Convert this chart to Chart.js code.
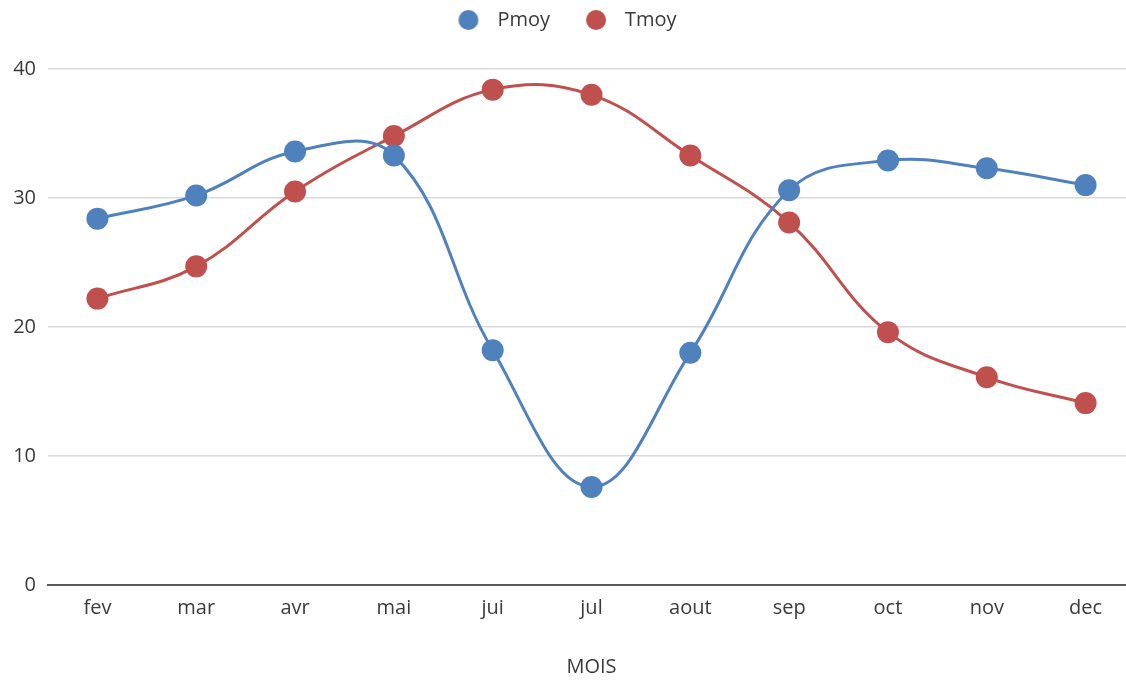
<!DOCTYPE html>
<html>
<head>
<meta charset="utf-8">
<script src="https://cdn.jsdelivr.net/npm/chart.js@4/dist/chart.umd.min.js"></script>
<style>
  html, body { margin: 0; padding: 0; background: #fff; overflow: hidden; }
  #wrap { position: relative; width: 1126px; height: 680px; overflow: hidden; }
  #chart { position: absolute; left: 0; top: 0; }
</style>
</head>
<body>
<div id="wrap">
  <canvas id="chart" width="1146" height="680"></canvas>
</div>
<script>
const months = ["fev", "mar", "avr", "mai", "jui", "jul", "aout", "sep", "oct", "nov", "dec"];
const pmoy = [28.4, 30.2, 33.6, 33.3, 18.2, 7.6, 18.0, 30.6, 32.9, 32.3, 31.0];
const tmoy = [22.2, 24.7, 30.5, 34.8, 38.4, 38.0, 33.3, 28.1, 19.6, 16.1, 14.1];
const yTicks = [0, 10, 20, 30, 40];

const blue = "#4F81BD";
const red = "#C0504D";
const textColor = "#3a3a3a";
const font = "'Open Sans', 'DejaVu Sans', sans-serif";
const fontSize = 20;

const series = (label, data, color) => ({
    label,
    data,
    borderColor: color,
    backgroundColor: color,
    borderWidth: 3,
    pointRadius: 11,
    pointHoverRadius: 11,
    pointBorderWidth: 0,
    tension: 0.4,
    fill: false,
});

// round legend marker, drawn once so the legend box can be wider than the dot
function dot(color) {
    const c = document.createElement("canvas");
    c.width = 22;
    c.height = 22;
    const ctx = c.getContext("2d");
    ctx.fillStyle = color;
    ctx.beginPath();
    ctx.arc(11, 11, 10, 0, Math.PI * 2);
    ctx.fill();
    return c;
}

const legendDots = [dot(blue), dot(red)];

// reserve a fixed band above the plot for the legend and nudge the items in it
const legendBand = {
    id: "legendBand",
    beforeInit(chart) {
        const fit = chart.legend.fit;
        chart.legend.fit = function () {
            fit.call(this);
            this.height = 69;
        };
    },
    afterLayout(chart) {
        chart.legend.top = -17;
        chart.legend.left -= 10;
        chart.legend.right -= 10;
    },
};

new Chart(document.getElementById("chart"), {
    type: "line",
    data: {
        labels: months,
        datasets: [series("Pmoy", pmoy, blue), series("Tmoy", tmoy, red)],
    },
    plugins: [legendBand],
    options: {
        responsive: false,
        animation: false,
        devicePixelRatio: 1,
        layout: { padding: 0 },
        plugins: {
            legend: {
                position: "top",
                labels: {
                    usePointStyle: true,
                    pointStyleWidth: 38,
                    boxHeight: 20,
                    padding: 27,
                    color: textColor,
                    font: { family: font, size: fontSize },
                    generateLabels: (chart) =>
                        Chart.defaults.plugins.legend.labels
                            .generateLabels(chart)
                            .map((item, i) => ({ ...item, pointStyle: legendDots[i] })),
                },
            },
            tooltip: { enabled: false },
        },
        scales: {
            x: {
                offset: true,
                afterFit: (axis) => { axis.height = 95; },
                grid: { display: false, drawTicks: false },
                border: { display: true, color: "#595959", width: 2 },
                ticks: {
                    color: textColor,
                    padding: 11,
                    font: { family: font, size: fontSize },
                },
                title: {
                    display: true,
                    text: "MOIS",
                    color: textColor,
                    padding: { top: 0, bottom: 1 },
                    font: { family: font, size: fontSize },
                },
            },
            y: {
                min: 0,
                max: 40,
                afterFit: (axis) => { axis.width = 48; },
                afterBuildTicks: (axis) => {
                    axis.ticks = yTicks.map((v) => ({ value: v }));
                },
                grid: { color: "#D9D9D9", lineWidth: 1.5, drawTicks: false },
                border: { display: false },
                ticks: {
                    color: textColor,
                    padding: 12,
                    font: { family: font, size: fontSize },
                },
            },
        },
    },
});
</script>
</body>
</html>
